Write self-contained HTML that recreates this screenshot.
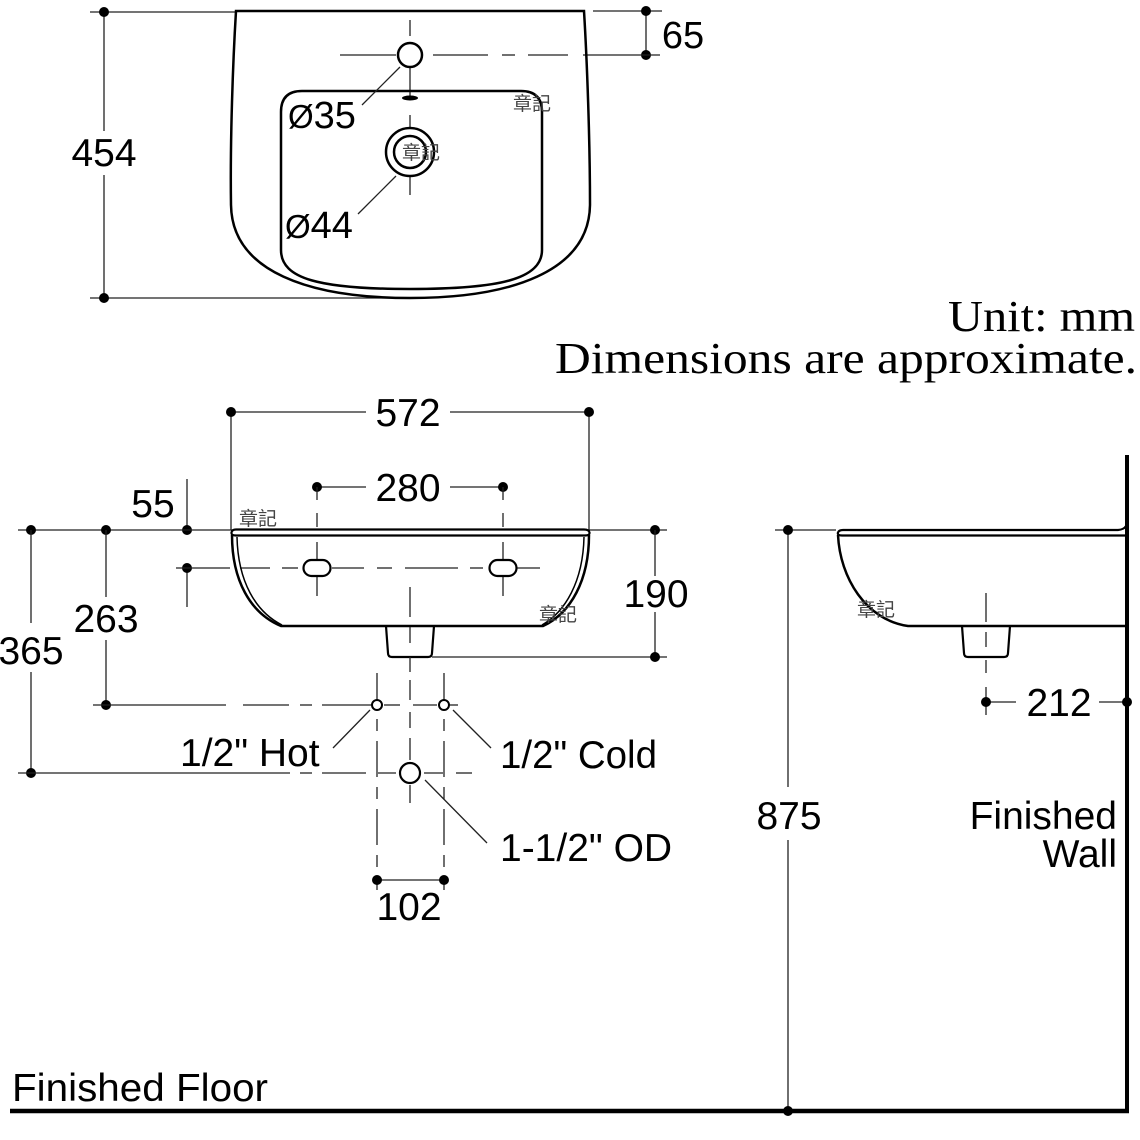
<!DOCTYPE html>
<html><head><meta charset="utf-8">
<style>
html,body{margin:0;padding:0;background:#fff;}
svg{display:block;}
text{font-family:"Liberation Sans",Arial,sans-serif;fill:#000;}
.wm{font-family:"Liberation Sans","Noto Sans CJK TC",sans-serif;fill:#444;font-size:19px;}
.serif{font-family:"Liberation Serif","Times New Roman",serif;}
.d{stroke:#222;stroke-width:1.3;fill:none;}
.o{stroke:#000;stroke-width:2.5;fill:none;}
</style></head><body>
<svg width="1140" height="1140" viewBox="0 0 1140 1140" xmlns="http://www.w3.org/2000/svg">
<g font-size="39">
<!-- ================= TOP VIEW ================= -->
<line class="d" x1="90" y1="12" x2="237" y2="12"/>
<line class="d" x1="90" y1="298" x2="410" y2="298"/>
<line class="d" x1="104" y1="12" x2="104" y2="131"/>
<line class="d" x1="104" y1="175" x2="104" y2="298"/>
<circle cx="104" cy="12" r="5"/>
<circle cx="104" cy="298" r="5"/>
<text x="104" y="166" text-anchor="middle">454</text>

<line class="d" x1="593" y1="11" x2="662" y2="11"/>
<line class="d" x1="646" y1="11" x2="646" y2="55"/>
<circle cx="646" cy="11" r="5"/>
<circle cx="646" cy="55" r="5"/>
<text x="683" y="48" text-anchor="middle" font-size="38">65</text>

<g class="d">
<line x1="340" y1="55" x2="396" y2="55"/>
<line x1="433" y1="55" x2="488" y2="55"/>
<line x1="502" y1="55" x2="515" y2="55"/>
<line x1="528" y1="55" x2="568" y2="55"/>
<line x1="583" y1="55" x2="660" y2="55"/>
<line x1="410" y1="20" x2="410" y2="36"/>
<line x1="410" y1="67" x2="410" y2="98"/>
<line x1="410" y1="115" x2="410" y2="128"/>
<line x1="410" y1="177" x2="410" y2="195"/>
</g>

<path class="o" d="M236,11 L584,11 C587,60 590,140 590,205 C589,272 510,298 410,298 C310,298 232,272 231,205 C230,140 233,60 236,11 Z"/>
<path class="o" d="M302,91 L521,91 Q542,91 542,112 L542,250 C542,279 500,289 410,289 C320,289 281,279 281,250 L281,112 Q281,91 302,91 Z"/>
<circle cx="410" cy="55" r="12" fill="#fff" stroke="#000" stroke-width="2.5"/>
<ellipse cx="410" cy="98" rx="8" ry="2.5" fill="#000"/>
<circle cx="410" cy="152" r="24" fill="none" stroke="#000" stroke-width="2.5"/>
<circle cx="410" cy="152" r="16" fill="none" stroke="#000" stroke-width="2.5"/>

<line class="d" x1="400" y1="67" x2="362" y2="105"/>
<line class="d" x1="396" y1="176" x2="358" y2="214"/>
<text x="288" y="128" font-size="38"><tspan font-size="33">Ø</tspan>35</text>
<text x="285" y="238" font-size="38"><tspan font-size="33">Ø</tspan>44</text>

<text class="wm" x="513" y="110">章記</text>
<text class="wm" x="402" y="159">章記</text>

<text class="serif" x="948" y="331" font-size="44" textLength="187" lengthAdjust="spacingAndGlyphs">Unit: mm</text>
<text class="serif" x="555" y="373" font-size="44" textLength="582" lengthAdjust="spacingAndGlyphs">Dimensions are approximate.</text>

<!-- ================= FRONT VIEW ================= -->
<line class="d" x1="231" y1="412" x2="366" y2="412"/>
<line class="d" x1="450" y1="412" x2="589" y2="412"/>
<line class="d" x1="231" y1="412" x2="231" y2="530"/>
<line class="d" x1="589" y1="412" x2="589" y2="530"/>
<circle cx="231" cy="412" r="5"/>
<circle cx="589" cy="412" r="5"/>
<text x="408" y="426" text-anchor="middle">572</text>

<line class="d" x1="317" y1="487" x2="366" y2="487"/>
<line class="d" x1="450" y1="487" x2="503" y2="487"/>
<circle cx="317" cy="487" r="5"/>
<circle cx="503" cy="487" r="5"/>
<text x="408" y="501" text-anchor="middle">280</text>
<g class="d">
<line x1="317" y1="487" x2="317" y2="500"/><line x1="317" y1="513" x2="317" y2="527"/>
<line x1="317" y1="542" x2="317" y2="559"/><line x1="317" y1="577" x2="317" y2="596"/>
<line x1="503" y1="487" x2="503" y2="500"/><line x1="503" y1="513" x2="503" y2="527"/>
<line x1="503" y1="542" x2="503" y2="559"/><line x1="503" y1="577" x2="503" y2="596"/>
</g>

<line class="d" x1="187" y1="479" x2="187" y2="530"/>
<line class="d" x1="187" y1="568" x2="187" y2="607"/>
<circle cx="187" cy="530" r="5"/>
<circle cx="187" cy="568" r="5"/>
<text x="153" y="517" text-anchor="middle">55</text>

<line class="d" x1="18" y1="530" x2="233" y2="530"/>
<line class="d" x1="588" y1="530" x2="667" y2="530"/>
<circle cx="31" cy="530" r="5"/>
<circle cx="106" cy="530" r="5"/>
<circle cx="655" cy="530" r="5"/>

<g class="d">
<line x1="176" y1="568" x2="230" y2="568"/>
<line x1="240" y1="568" x2="270" y2="568"/>
<line x1="282" y1="568" x2="298" y2="568"/>
<line x1="332" y1="568" x2="364" y2="568"/>
<line x1="377" y1="568" x2="392" y2="568"/>
<line x1="405" y1="568" x2="458" y2="568"/>
<line x1="470" y1="568" x2="483" y2="568"/>
<line x1="517" y1="568" x2="540" y2="568"/>
</g>

<line class="d" x1="655" y1="530" x2="655" y2="576"/>
<line class="d" x1="655" y1="612" x2="655" y2="657"/>
<line class="d" x1="432" y1="657" x2="667" y2="657"/>
<circle cx="655" cy="657" r="5"/>
<text x="656" y="607" text-anchor="middle">190</text>

<line class="d" x1="106" y1="530" x2="106" y2="597"/>
<line class="d" x1="106" y1="640" x2="106" y2="705"/>
<circle cx="106" cy="705" r="5"/>
<text x="106" y="632" text-anchor="middle">263</text>

<line class="d" x1="31" y1="530" x2="31" y2="623"/>
<line class="d" x1="31" y1="672" x2="31" y2="773"/>
<circle cx="31" cy="773" r="5"/>
<text x="31" y="664" text-anchor="middle">365</text>

<path d="M236,535.5 L585,535.5 Q590,535.5 589.5,532.5 Q589,529.5 584,529.5 L236,529.5 Q232,529.5 231.5,532.5 Q231,535.5 236,535.5 Z" fill="#fff" stroke="#000" stroke-width="2.2"/>
<path class="o" d="M232,535 C232,580 250,613 281,626 L543,626 C571,613 589,580 589,535"/>
<path d="M237,537 C238,582 256,612 282,625" fill="none" stroke="#000" stroke-width="1.5"/>
<path d="M584,537 C583,582 565,612 542,625" fill="none" stroke="#000" stroke-width="1.5"/>
<path d="M386,626 L388,653 Q388,657 392,657 L428,657 Q432,657 432,653 L434,626" fill="none" stroke="#000" stroke-width="2.2"/>
<rect x="303.5" y="560" width="27" height="16" rx="8" fill="#fff" stroke="#000" stroke-width="2.2"/>
<rect x="489.5" y="560" width="27" height="16" rx="8" fill="#fff" stroke="#000" stroke-width="2.2"/>

<g class="d">
<line x1="410" y1="587" x2="410" y2="617"/>
<line x1="410" y1="627" x2="410" y2="643"/>
<line x1="410" y1="657" x2="410" y2="672"/>
<line x1="410" y1="680" x2="410" y2="700"/>
<line x1="410" y1="712" x2="410" y2="728"/>
<line x1="410" y1="738" x2="410" y2="760"/>
<line x1="410" y1="785" x2="410" y2="803"/>
</g>

<g class="d">
<line x1="93" y1="705" x2="226" y2="705"/>
<line x1="243" y1="705" x2="289" y2="705"/>
<line x1="300" y1="705" x2="312" y2="705"/>
<line x1="322" y1="705" x2="371" y2="705"/>
<line x1="384" y1="705" x2="400" y2="705"/>
<line x1="413" y1="705" x2="437" y2="705"/>
<line x1="450" y1="705" x2="458" y2="705"/>
</g>
<g class="d">
<line x1="18" y1="773" x2="290" y2="773"/>
<line x1="300" y1="773" x2="312" y2="773"/>
<line x1="322" y1="773" x2="366" y2="773"/>
<line x1="378" y1="773" x2="396" y2="773"/>
<line x1="424" y1="773" x2="443" y2="773"/>
<line x1="456" y1="773" x2="472" y2="773"/>
</g>
<line class="d" x1="377" y1="673" x2="377" y2="890" stroke-dasharray="36 10 12 10"/>
<line class="d" x1="444" y1="673" x2="444" y2="890" stroke-dasharray="36 10 12 10"/>

<circle cx="377" cy="705" r="5" fill="#fff" stroke="#000" stroke-width="2"/>
<circle cx="444" cy="705" r="5" fill="#fff" stroke="#000" stroke-width="2"/>
<circle cx="410" cy="773" r="10" fill="#fff" stroke="#000" stroke-width="2.2"/>

<line class="d" x1="377" y1="880" x2="444" y2="880"/>
<circle cx="377" cy="880" r="5"/>
<circle cx="444" cy="880" r="5"/>
<text x="409" y="920" text-anchor="middle">102</text>

<line class="d" x1="370" y1="710" x2="333" y2="748"/>
<line class="d" x1="453" y1="710" x2="491" y2="748"/>
<line class="d" x1="425" y1="780" x2="487" y2="843"/>
<text x="180" y="766">1/2" Hot</text>
<text x="500" y="768" textLength="157" lengthAdjust="spacingAndGlyphs">1/2" Cold</text>
<text x="500" y="861">1-1/2" OD</text>

<text class="wm" x="239" y="525">章記</text>
<text class="wm" x="539" y="621">章記</text>

<!-- ================= SIDE VIEW ================= -->
<line x1="1127" y1="455" x2="1127" y2="1113" stroke="#000" stroke-width="4"/>
<line x1="10" y1="1111" x2="1129" y2="1111" stroke="#000" stroke-width="4.5"/>

<path d="M1126,535.5 L842,535.5 Q837,535.5 838,532.5 Q839,530 843,530 L1118,530 Q1124,529.5 1126,526" fill="none" stroke="#000" stroke-width="2.2"/>
<path class="o" d="M838,535 C840,578 866,620 908,626 L1126,626"/>
<path d="M962,626 L964,653 Q964,657 968,657 L1004,657 Q1008,657 1008,653 L1010,626" fill="none" stroke="#000" stroke-width="2.2"/>

<g class="d">
<line x1="986" y1="593" x2="986" y2="622"/>
<line x1="986" y1="632" x2="986" y2="647"/>
<line x1="986" y1="660" x2="986" y2="673"/>
<line x1="986" y1="687" x2="986" y2="715"/>
</g>

<line class="d" x1="986" y1="702" x2="1016" y2="702"/>
<line class="d" x1="1099" y1="702" x2="1127" y2="702"/>
<circle cx="986" cy="702" r="5"/>
<circle cx="1127" cy="702" r="5"/>
<text x="1059" y="716" text-anchor="middle">212</text>

<line class="d" x1="775" y1="530" x2="836" y2="530"/>
<line class="d" x1="788" y1="530" x2="788" y2="787"/>
<line class="d" x1="788" y1="840" x2="788" y2="1111"/>
<circle cx="788" cy="530" r="5"/>
<circle cx="788" cy="1111" r="5"/>
<text x="789" y="829" text-anchor="middle">875</text>

<text x="1117" y="829" text-anchor="end">Finished</text>
<text x="1117" y="867" text-anchor="end">Wall</text>
<text x="12" y="1101" textLength="256" lengthAdjust="spacingAndGlyphs">Finished Floor</text>

<text class="wm" x="857" y="616">章記</text>
</g>
</svg>
</body></html>
